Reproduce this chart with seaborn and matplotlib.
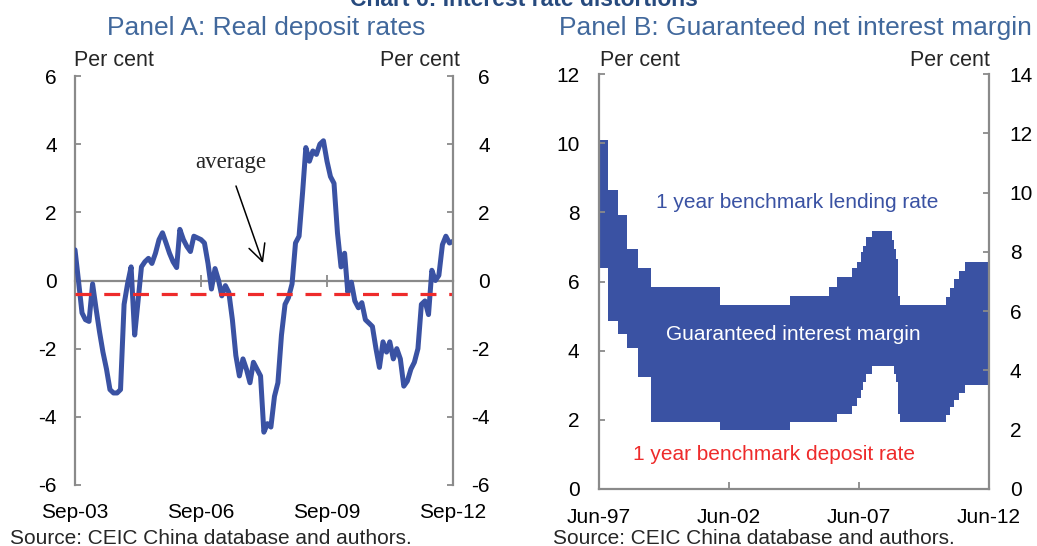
import matplotlib
matplotlib.use('Agg')
import matplotlib.pyplot as plt
import pandas as pd
import seaborn as sns

# Panel A: real deposit rate, monthly from Sep-03 to Sep-12 (per cent)
real_rate = [0.9, 0.0, -0.95, -1.15, -1.2, -0.1, -0.8, -1.5, -2.1, -2.6,
             -3.2, -3.3, -3.3, -3.2, -0.7, -0.1, 0.4, -1.6, -0.65, 0.4,
             0.55, 0.65, 0.5, 0.8, 1.2, 1.4, 1.1, 0.8, 0.55, 0.38,
             1.5, 1.2, 1.0, 0.85, 1.3, 1.25, 1.2, 1.1, 0.5, -0.25,
             0.35, 0.0, -0.45, -0.15, -0.35, -1.15, -2.2, -2.8, -2.3, -2.6,
             -3.0, -2.4, -2.6, -2.8, -4.45, -4.2, -4.3, -3.4, -3.0, -1.6,
             -0.7, -0.5, -0.1, 1.1, 1.3, 2.6, 3.9, 3.5, 3.8, 3.7,
             4.0, 4.1, 3.5, 3.05, 2.85, 1.4, 0.4, 0.8, -0.35, -0.05,
             -0.6, -0.8, -0.65, -1.15, -1.25, -1.35, -2.0, -2.55, -1.8, -2.1,
             -1.8, -2.3, -2.0, -2.3, -3.1, -2.95, -2.6, -2.4, -2.0, -0.7,
             -0.6, -1.0, 0.3, 0.0, 0.15, 1.05, 1.3, 1.1, 1.15]
avg_rate = -0.4
a_start = '2003-09-01'
a_ticks = ['2003-09-01', '2006-09-01', '2009-09-01', '2012-09-01']
a_labels = ['Sep-03', 'Sep-06', 'Sep-09', 'Sep-12']
a_yticks = [-6, -4, -2, 0, 2, 4, 6]

# Panel B: 1 year benchmark rates (lending on left axis, deposit on right axis)
lend_dates = ['1997-06-01', '1997-10-01', '1998-03-01', '1998-07-01', '1998-12-01',
              '1999-06-01', '2002-02-01', '2004-10-01', '2006-04-01', '2006-08-01',
              '2007-03-01', '2007-05-01', '2007-07-01', '2007-08-01', '2007-09-01',
              '2007-12-01', '2008-09-01', '2008-10-01', '2008-11-01', '2008-12-01',
              '2009-01-01', '2010-10-01', '2010-12-01', '2011-02-01', '2011-04-01',
              '2011-07-01', '2012-06-01']
lend_rate = [10.08, 8.64, 7.92, 6.93, 6.39,
             5.85, 5.31, 5.58, 5.85, 6.12,
             6.39, 6.57, 6.84, 7.02, 7.29,
             7.47, 7.20, 6.93, 6.66, 5.58,
             5.31, 5.56, 5.81, 6.06, 6.31,
             6.56, 6.56]
dep_dates = ['1997-06-01', '1997-10-01', '1998-03-01', '1998-07-01', '1998-12-01',
             '1999-06-01', '2002-02-01', '2004-10-01', '2006-08-01', '2007-03-01',
             '2007-05-01', '2007-07-01', '2007-08-01', '2007-09-01', '2007-12-01',
             '2008-10-01', '2008-11-01', '2008-12-01', '2009-01-01', '2010-10-01',
             '2010-12-01', '2011-02-01', '2011-04-01', '2011-07-01', '2012-06-01']
dep_rate = [7.47, 5.67, 5.22, 4.77, 3.78,
            2.25, 1.98, 2.25, 2.52, 2.79,
            3.06, 3.33, 3.60, 3.87, 4.14,
            3.87, 3.60, 2.52, 2.25, 2.50,
            2.75, 3.00, 3.25, 3.50, 3.50]
b_ticks = ['1997-06-01', '2002-06-01', '2007-06-01', '2012-06-01']
b_labels = ['Jun-97', 'Jun-02', 'Jun-07', 'Jun-12']
b_left_ticks = [0, 2, 4, 6, 8, 10, 12]
b_right_ticks = [0, 2, 4, 6, 8, 10, 12, 14]

BLUE = '#3A52A3'
RED = '#EE2B2B'
GREY = '#8A8A8A'
TITLE_BLUE = '#41689C'
W, H = 1037, 546


def fxy(x, y):
    return x / W, 1 - y / H


sns.set_theme(style='white')
plt.rcParams['font.family'] = ['Liberation Sans', 'DejaVu Sans']
plt.rcParams['axes.unicode_minus'] = False

fig = plt.figure(figsize=(W / 100, H / 100), dpi=100)

# ---------------- Panel A ----------------
rectA = [75 / W, 1 - 485 / H, 378 / W, 409 / H]
months = pd.date_range(a_start, periods=len(real_rate), freq='MS')
dfa = pd.DataFrame({'month': months, 'rate': real_rate})

axA = fig.add_axes(rectA)
sns.lineplot(data=dfa, x='month', y='rate', ax=axA, color=BLUE, lw=3.6, zorder=3)
axA.axhline(avg_rate, color=RED, lw=2.3, ls=(0, (5, 4)), zorder=4)
axA.set_xlim(months[0], months[-1])
axA.set_ylim(-6, 6)
axA.set_yticks(a_yticks)
axA.set_xticks(pd.to_datetime(a_ticks))
axA.set_xlabel('')
axA.set_ylabel('')
axA.spines['bottom'].set_position(('data', 0))
axA.spines['top'].set_visible(False)
axA.spines['right'].set_visible(False)
for s in ['left', 'bottom']:
    axA.spines[s].set_color(GREY)
    axA.spines[s].set_linewidth(1.6)
axA.tick_params(axis='x', bottom=True, direction='inout', length=9, width=1.3,
                color=GREY, labelbottom=False)
axA.tick_params(axis='y', left=True, direction='in', length=4, width=1.3,
                color=GREY, labelsize=15, pad=13, labelcolor='black')

secA = axA.secondary_xaxis('bottom')
secA.set_xticks(pd.to_datetime(a_ticks), a_labels)
secA.spines['bottom'].set_visible(False)
secA.tick_params(length=0, pad=13, labelsize=15, labelcolor='black')

axA2 = axA.twinx()
axA2.set_ylim(-6, 6)
axA2.set_yticks(a_yticks)
for s in ['left', 'top', 'bottom']:
    axA2.spines[s].set_visible(False)
axA2.spines['right'].set_color(GREY)
axA2.spines['right'].set_linewidth(1.6)
axA2.tick_params(axis='y', right=True, direction='in', length=4, width=1.3,
                 color=GREY, labelsize=15, pad=26.5, labelcolor='black')
for t in axA2.get_yticklabels():
    t.set_horizontalalignment('right')
axA2.grid(False)

fig.text(*fxy(74, 60), 'Per cent', ha='left', va='center', size=15.5)
fig.text(*fxy(460, 60), 'Per cent', ha='right', va='center', size=15.5)
fig.text(*fxy(231, 162), 'average', ha='center', va='center', size=16.5,
         family=['Liberation Serif', 'DejaVu Serif'])
fig.add_artist(plt.Annotation('', xy=fxy(263, 263), xytext=fxy(236, 186),
                              xycoords='figure fraction', textcoords='figure fraction',
                              arrowprops=dict(arrowstyle='->,head_length=0.6,head_width=0.3',
                                              color='black', lw=1.1, mutation_scale=20,
                                              shrinkA=0, shrinkB=0)))
fig.text(*fxy(266, 28), 'Panel A: Real deposit rates', ha='center', va='center',
         size=19, color=TITLE_BLUE)
fig.text(*fxy(10, 538), 'Source: CEIC China database and authors.', ha='left',
         va='center', size=15)

# ---------------- Panel B ----------------
rectB = [599 / W, 1 - 489 / H, 390 / W, 415 / H]
b_lim = (pd.Timestamp(b_ticks[0]), pd.Timestamp(b_ticks[-1]))

axBl = fig.add_axes(rectB)
axBl.fill_between(pd.to_datetime(lend_dates), lend_rate, 0, step='post',
                  color=BLUE, lw=0)
axBl.set_ylim(0, 12)
axBl.set_xlim(*b_lim)
axBl.set_axis_off()

axBr = axBl.twinx()
axBr.fill_between(pd.to_datetime(dep_dates), dep_rate, 0, step='post',
                  color='white', lw=0)
axBr.set_ylim(0, 14)
axBr.set_yticks(b_right_ticks)
axBr.set_axis_on()
for s in ['left', 'top', 'bottom']:
    axBr.spines[s].set_visible(False)
axBr.spines['right'].set_visible(True)
axBr.spines['right'].set_color(GREY)
axBr.spines['right'].set_linewidth(1.6)
axBr.tick_params(axis='y', right=True, left=False, direction='in', length=4,
                 width=1.3, color=GREY, labelsize=15, pad=15, labelcolor='black')
axBr.tick_params(axis='x', bottom=False, labelbottom=False)
axBr.grid(False)

axBt = fig.add_axes(rectB, sharex=axBl)
axBt.set_zorder(axBr.get_zorder() + 1)
axBt.patch.set_visible(False)
axBt.set_ylim(0, 12)
axBt.set_yticks(b_left_ticks)
axBt.set_xticks(pd.to_datetime(b_ticks), b_labels)
axBt.set_xlim(*b_lim)
for s in ['top', 'right']:
    axBt.spines[s].set_visible(False)
for s in ['left', 'bottom']:
    axBt.spines[s].set_visible(True)
    axBt.spines[s].set_color(GREY)
    axBt.spines[s].set_linewidth(1.6)
axBt.tick_params(axis='y', left=True, direction='in', length=4, width=1.3,
                 color=GREY, labelsize=15, pad=14, labelcolor='black')
axBt.tick_params(axis='x', bottom=True, direction='in', length=5, width=1.3,
                 color=GREY, labelsize=15, pad=14, labelcolor='black')
axBt.grid(False)

fig.text(*fxy(797, 203), '1 year benchmark lending rate', ha='center', va='center',
         size=15, color=BLUE)
fig.text(*fxy(793, 335), 'Guaranteed interest margin', ha='center', va='center',
         size=15, color='white')
fig.text(*fxy(774, 455), '1 year benchmark deposit rate', ha='center', va='center',
         size=15, color=RED)
fig.text(*fxy(600, 60), 'Per cent', ha='left', va='center', size=15.5)
fig.text(*fxy(990, 60), 'Per cent', ha='right', va='center', size=15.5)
fig.text(*fxy(795, 28), 'Panel B: Guaranteed net interest margin', ha='center',
         va='center', size=19, color=TITLE_BLUE)
fig.text(*fxy(553, 538), 'Source: CEIC China database and authors.', ha='left',
         va='center', size=15)

# main title sits partly above the top edge, as in the source image
fig.text(*fxy(524, 6), 'Chart 6: Interest rate distortions', ha='center',
         va='baseline', size=16.5, fontweight='bold', color='#274A7E')

fig.savefig('out.png', dpi=100)
